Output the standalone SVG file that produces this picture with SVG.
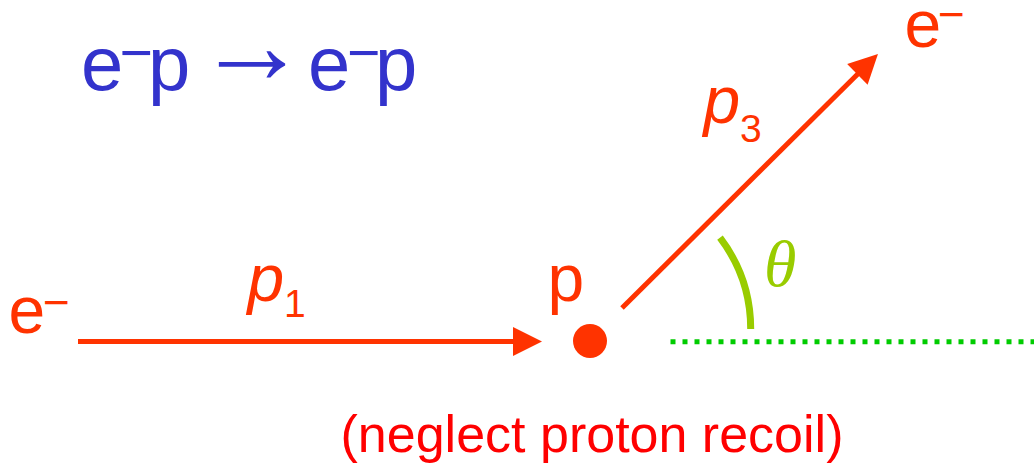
<svg xmlns="http://www.w3.org/2000/svg" width="1034" height="463" viewBox="0 0 1034 463">
  <style>
    .sans { font-family: "Liberation Sans", Arial, sans-serif; }
    .red { fill: #ff3300; }
    .blue { fill: #3333cc; }
    .it { font-style: italic; }
    .arrow { stroke: #ff3300; stroke-width: 5; fill: none; }
  </style>
  <defs>
    <marker id="head" markerUnits="userSpaceOnUse" markerWidth="30" markerHeight="30" refX="2" refY="14.5" orient="auto" overflow="visible">
      <path d="M0,0 L29,14.5 L0,29 Z" fill="#ff3300"/>
    </marker>
  </defs>
  <rect width="1034" height="463" fill="#ffffff"/>

  <g id="title" class="sans blue">
    <text x="81" y="90" font-size="76">e</text>
    <text x="119.5" y="72" font-size="57">−</text>
    <text x="148" y="90" font-size="76">p</text>
    <text x="196" y="83" font-size="112">→</text>
    <text x="308" y="90" font-size="76">e</text>
    <text x="347" y="72" font-size="57">−</text>
    <text x="375" y="90" font-size="76">p</text>
  </g>

  <g id="connectors">
    <line class="arrow" x1="78" y1="341.5" x2="515" y2="341.5" marker-end="url(#head)"/>
    <line class="arrow" x1="622" y1="308" x2="858.8" y2="73" marker-end="url(#head)"/>
    <line x1="670.5" y1="341.7" x2="1034" y2="341.7" stroke="#00cc00" stroke-width="5" stroke-dasharray="5 7"/>
    <path d="M720,237.7 A151,151 0 0,1 750.7,329" fill="none" stroke="#99cc00" stroke-width="7"/>
  </g>

  <g id="electron-in" class="sans red">
    <text x="8.5" y="333" font-size="66">e</text>
    <text x="43" y="318" font-size="46">−</text>
  </g>

  <g id="p1-label" class="sans red">
    <text x="247.5" y="301" font-size="66" class="it">p</text>
    <text x="284" y="317" font-size="39">1</text>
  </g>

  <g id="proton">
    <circle cx="590" cy="341" r="17" fill="#ff3300"/>
    <text class="sans red" x="547.6" y="301" font-size="66">p</text>
  </g>

  <g id="p3-label" class="sans red">
    <text x="703.5" y="123" font-size="66" class="it">p</text>
    <text x="740" y="142" font-size="39">3</text>
  </g>

  <g id="electron-out" class="sans red">
    <text x="904.5" y="46.5" font-size="66">e</text>
    <text x="938" y="29.7" font-size="46">−</text>
  </g>

  <g id="theta">
    <text x="764" y="286" font-size="66" font-family="'Liberation Serif', 'Times New Roman', serif" font-style="italic" fill="#99cc00">θ</text>
  </g>

  <g id="note">
    <text class="sans" x="592" y="452" font-size="52" text-anchor="middle" fill="#ff0000">(neglect proton recoil)</text>
  </g>
</svg>
